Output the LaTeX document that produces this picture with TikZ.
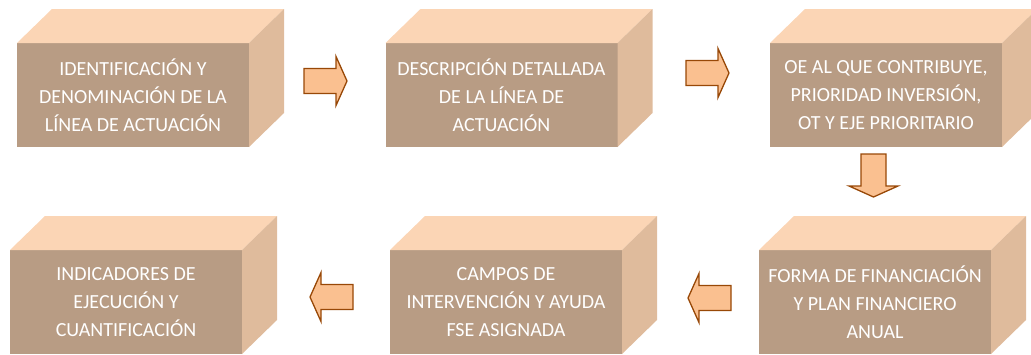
\documentclass[tikz,border=0pt]{standalone}
\usepackage{fontspec}
\setmainfont{Carlito}
\usetikzlibrary{calc}

\definecolor{caja}{HTML}{B89C84}
\definecolor{tapa}{HTML}{FBD5B5}
\definecolor{lado}{HTML}{DFBB9C}
\definecolor{flechafondo}{HTML}{FAC090}
\definecolor{flechaborde}{HTML}{984807}

\tikzset{
  frente/.style={fill=caja, text=white, minimum width=232pt, minimum height=104pt,
    inner sep=0pt, outer sep=0pt, align=center, font=\fontsize{20}{28}\selectfont},
  flecha/.style={draw=flechaborde, fill=flechafondo, line width=1.3pt, line join=miter}
}

\begin{document}
\begin{tikzpicture}[x=1pt,y=-1pt]
\useasboundingbox (0,0) rectangle (1031,354);

\node[frente] (ident) at (133,95) {IDENTIFICACIÓN Y\\DENOMINACIÓN DE LA\\LÍNEA DE ACTUACIÓN};
\node[frente] (descr) at (501.5,95) {DESCRIPCIÓN DETALLADA\\DE LA LÍNEA DE\\ACTUACIÓN};
\node[frente] (oe) at (886,95) {OE AL QUE CONTRIBUYE,\\PRIORIDAD INVERSIÓN,\\OT Y EJE PRIORITARIO};
\node[frente] (forma) at (875,302) {FORMA DE FINANCIACIÓN\\Y PLAN FINANCIERO\\ANUAL};
\node[frente] (campos) at (506,302) {CAMPOS DE\\INTERVENCIÓN Y AYUDA\\FSE ASIGNADA};
\node[frente] (indic) at (126,302) {INDICADORES DE\\EJECUCIÓN Y\\CUANTIFICACIÓN};

\foreach \c in {ident,descr,oe,forma,campos,indic} {
  \fill[tapa] (\c.north west) -- (\c.north east) -- ++(35,-34)
    -- ($(\c.north west)+(35,-34)$) -- cycle;
  \fill[lado] (\c.north east) -- ++(35,-34) -- ($(\c.south east)+(35,-34)$)
    -- (\c.south east) -- cycle;
}

\foreach \x/\y/\a in {325.5/81/0, 707.5/73/0, 873.5/175.5/-90, 709.5/298/180, 331.5/297/180}
  \draw[flecha, shift={(\x,\y)}, rotate=\a] (-21.5,-12.5) -- (10.5,-12.5) -- (10.5,-24.5)
    -- (21.5,0) -- (10.5,24.5) -- (10.5,12.5) -- (-21.5,12.5) -- cycle;
\end{tikzpicture}
\end{document}
